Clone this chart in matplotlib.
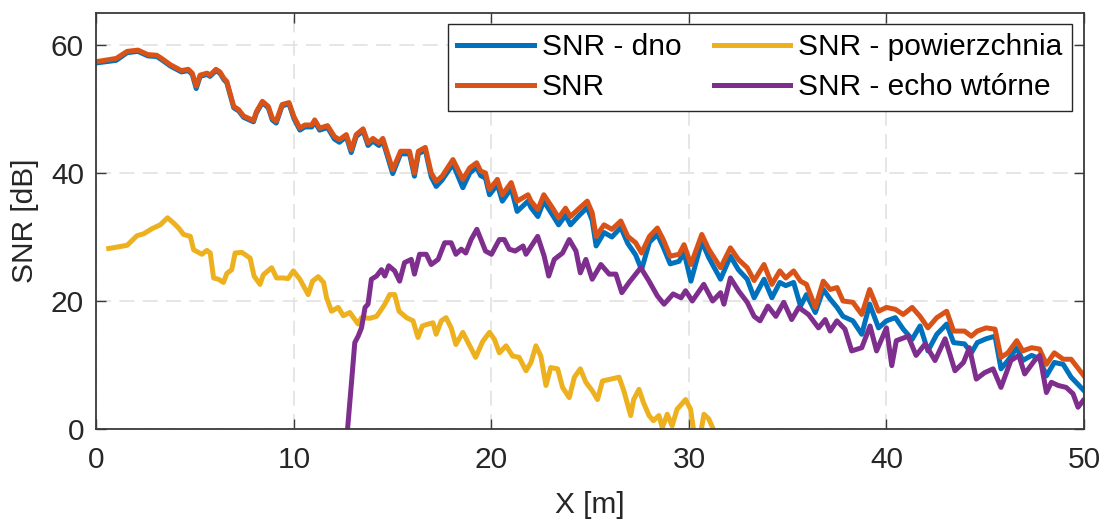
import matplotlib
matplotlib.use("Agg")
import matplotlib.pyplot as plt

plt.rcParams["font.family"] = ["Liberation Sans", "DejaVu Sans"]

# distance axis for SNR and SNR - dno
x_snr = [0.0, 1.0, 1.55, 2.1, 2.6, 3.05, 3.3, 3.75, 4.3, 4.65,
         4.85, 5.05, 5.25, 5.6, 5.75, 6.05, 6.25, 6.45, 6.6, 6.95,
         7.2, 7.45, 7.95, 8.1, 8.4, 8.7, 8.9, 9.1, 9.4, 9.75,
         10.0, 10.3, 10.55, 10.9, 11.05, 11.3, 11.7, 12.05, 12.3, 12.65,
         12.9, 13.15, 13.5, 13.75, 14.0, 14.3, 14.5, 15.0, 15.4, 15.85,
         16.1, 16.3, 16.65, 16.95, 17.2, 17.5, 18.05, 18.55, 18.9, 19.25,
         19.45, 19.7, 19.9, 20.3, 20.55, 21.0, 21.3, 21.85, 22.0, 22.35,
         22.65, 23.1, 23.4, 23.75, 24.0, 24.45, 24.85, 25.1, 25.3, 25.7,
         26.1, 26.55, 26.9, 27.3, 27.6, 28.0, 28.4, 28.7, 29.05, 29.5,
         29.75, 30.1, 30.65, 31.0, 31.6, 32.1, 32.5, 32.95, 33.3, 33.8,
         34.2, 34.6, 34.9, 35.3, 35.65, 35.95, 36.4, 36.8, 37.15, 37.5,
         37.8, 38.3, 38.75, 39.15, 39.6, 40.0, 40.45, 40.85, 41.3, 41.7,
         42.1, 42.55, 43.05, 43.4, 43.95, 44.3, 44.6, 45.05, 45.5, 45.8,
         46.15, 46.6, 46.9, 47.35, 47.75, 48.1, 48.5, 48.95, 49.35, 49.6,
         50.0]

snr = [57.4, 57.9, 59.0, 59.2, 58.5, 58.4, 57.9, 56.9, 56.0, 56.2,
       55.6, 53.6, 55.3, 55.6, 55.3, 56.2, 55.8, 54.8, 54.3, 50.4,
       49.9, 48.9, 48.2, 49.6, 51.2, 50.4, 48.6, 48.1, 50.7, 51.0,
       48.8, 47.0, 47.5, 47.5, 48.3, 47.0, 47.4, 45.7, 45.2, 46.0,
       43.6, 46.0, 46.9, 44.7, 45.4, 44.7, 45.4, 40.5, 43.4, 43.4,
       40.0, 43.4, 44.0, 40.0, 38.7, 39.5, 42.1, 39.0, 40.8, 41.6,
       40.3, 40.0, 37.4, 39.0, 36.6, 38.5, 35.6, 36.6, 35.6, 34.3,
       36.6, 34.5, 33.0, 34.5, 33.2, 34.5, 35.6, 33.8, 30.1, 31.9,
       31.2, 32.5, 30.1, 29.1, 27.5, 30.1, 31.4, 29.6, 27.0, 27.3,
       28.8, 25.7, 30.4, 28.1, 25.2, 28.3, 26.5, 25.2, 23.2, 25.7,
       22.6, 24.7, 23.6, 24.7, 23.1, 22.6, 19.0, 23.1, 21.8, 22.1,
       20.0, 19.8, 17.9, 21.8, 18.4, 19.0, 18.7, 17.9, 19.0, 17.6,
       15.8, 17.4, 18.4, 15.3, 15.3, 14.5, 15.3, 15.8, 15.6, 11.2,
       11.9, 13.8, 12.2, 12.7, 12.5, 10.1, 11.9, 10.9, 10.9, 9.9,
       8.3]

snr_dno = [57.2, 57.6, 58.8, 59.0, 58.3, 58.2, 57.7, 56.7, 55.8, 56.0,
           55.4, 53.2, 55.1, 55.4, 55.1, 56.0, 55.6, 54.6, 54.1, 50.2,
           49.7, 48.7, 48.0, 49.4, 51.0, 50.2, 48.3, 47.8, 50.5, 50.8,
           48.5, 46.7, 47.2, 47.2, 48.0, 46.7, 47.1, 45.3, 44.8, 45.7,
           43.2, 45.7, 46.6, 44.3, 45.0, 44.3, 45.0, 39.9, 43.0, 43.0,
           39.5, 43.0, 43.6, 39.4, 37.9, 38.9, 41.4, 37.7, 40.0, 40.9,
           39.6, 39.2, 36.6, 38.2, 35.6, 37.6, 34.0, 35.6, 34.6, 33.2,
           35.6, 33.4, 31.9, 33.4, 31.9, 33.4, 34.6, 32.6, 28.6, 30.7,
           30.0, 31.5, 29.0, 27.2, 24.9, 29.2, 30.4, 28.4, 25.8, 26.2,
           27.6, 23.1, 29.3, 26.8, 23.4, 27.0, 24.9, 23.4, 20.5, 23.4,
           20.5, 22.9, 22.4, 22.9, 19.2, 21.0, 18.2, 21.8, 20.3, 19.0,
           17.6, 16.9, 14.8, 19.5, 15.8, 16.9, 17.4, 15.6, 14.0, 16.1,
           12.2, 14.8, 16.4, 13.5, 13.3, 11.9, 13.5, 14.1, 14.5, 9.4,
           10.7, 12.7, 10.7, 11.5, 11.0, 8.3, 10.4, 10.1, 8.1, 7.3,
           6.0]

# SNR - powierzchnia
x_pow = [0.62, 1.55, 2.05, 2.39, 2.81, 3.23, 3.6, 3.9, 4.16, 4.41,
         4.75, 4.92, 5.34, 5.59, 5.76, 5.93, 6.18, 6.43, 6.6, 6.85,
         7.02, 7.36, 7.78, 7.98, 8.28, 8.45, 8.87, 9.12, 9.46, 9.7,
         9.97, 10.3, 10.72, 10.94, 11.23, 11.5, 11.65, 11.9, 12.24, 12.5,
         12.83, 13.25, 13.42, 13.84, 14.18, 14.43, 14.6, 14.85, 15.1, 15.32,
         15.7, 16.03, 16.28, 16.5, 16.8, 17.04, 17.2, 17.46, 17.7, 17.96,
         18.2, 18.55, 18.9, 19.2, 19.56, 19.9, 20.15, 20.4, 20.74, 21.07,
         21.4, 21.75, 22.0, 22.25, 22.5, 22.76, 23.0, 23.35, 23.6, 23.94,
         24.2, 24.5, 24.78, 25.1, 25.37, 25.62, 26.05, 26.46, 26.7, 27.05,
         27.2, 27.47, 27.7, 27.98, 28.2, 28.48, 28.65, 28.9, 29.15, 29.4,
         29.83, 30.08, 30.25, 30.6, 30.76, 31.0, 31.2]

snr_pow = [28.2, 28.7, 30.2, 30.5, 31.3, 31.9, 33.0, 32.2, 31.4, 30.4,
           30.1, 28.0, 27.3, 27.9, 27.5, 23.6, 23.4, 22.9, 24.3, 24.9,
           27.5, 27.6, 26.7, 23.9, 22.6, 24.1, 25.2, 23.6, 23.6, 23.5,
           24.7, 23.4, 21.0, 23.1, 23.8, 22.9, 20.5, 18.4, 19.0, 17.7,
           18.2, 16.4, 17.4, 17.3, 17.6, 18.7, 19.5, 21.0, 21.0, 18.4,
           17.4, 16.9, 14.3, 16.1, 16.4, 16.6, 14.8, 16.9, 17.4, 15.8,
           13.2, 15.1, 13.0, 11.2, 13.7, 15.1, 14.0, 11.9, 13.0, 11.4,
           11.2, 9.1, 10.4, 13.0, 11.4, 6.8, 9.6, 9.4, 6.5, 4.9,
           8.1, 9.4, 7.3, 6.0, 4.6, 7.5, 7.8, 8.1, 6.0, 2.1,
           4.6, 6.2, 4.1, 2.1, 1.3, 2.1, 0.2, 2.3, 0.5, 3.1,
           4.6, 3.1, -0.5, -0.5, 2.3, 1.6, 0.2]

# SNR - echo wtorne
x_echo = [12.7, 12.9, 13.08, 13.25, 13.42, 13.6, 13.75, 13.92, 14.18, 14.43,
          14.6, 14.8, 15.1, 15.35, 15.6, 15.94, 16.1, 16.36, 16.7, 16.95,
          17.3, 17.63, 17.96, 18.2, 18.47, 18.7, 18.97, 19.26, 19.47, 19.7,
          20.0, 20.4, 20.65, 20.9, 21.2, 21.6, 21.75, 22.34, 22.67, 22.9,
          23.18, 23.6, 23.94, 24.28, 24.5, 24.78, 25.1, 25.54, 25.96, 26.3,
          26.6, 26.97, 27.56, 27.98, 28.4, 28.74, 29.2, 29.6, 29.83, 30.17,
          30.75, 31.2, 31.6, 31.77, 32.1, 32.53, 32.95, 33.3, 33.6, 34.0,
          34.4, 34.8, 35.2, 35.56, 36.05, 36.56, 36.9, 37.15, 37.49, 37.9,
          38.24, 38.75, 39.17, 39.5, 40.0, 40.27, 40.5, 41.1, 41.5, 41.96,
          42.46, 42.97, 43.47, 43.9, 44.2, 44.55, 44.97, 45.4, 45.8, 46.3,
          46.7, 47.0, 47.5, 47.76, 48.1, 48.35, 48.7, 49.1, 49.45, 49.7,
          49.95]

snr_echo = [-0.5, 6.8, 13.5, 14.5, 15.8, 19.0, 19.5, 23.4, 23.9, 24.9,
            23.9, 25.5, 24.7, 23.1, 26.0, 26.5, 24.2, 27.3, 27.3, 25.7,
            26.5, 29.1, 29.1, 27.3, 28.1, 27.5, 29.6, 31.2, 29.6, 27.8,
            27.3, 29.6, 29.6, 28.1, 27.8, 28.6, 27.3, 30.1, 27.0, 23.9,
            26.5, 27.5, 29.6, 27.8, 24.4, 26.5, 23.4, 25.7, 24.2, 24.2,
            21.3, 22.9, 25.2, 23.1, 20.8, 19.5, 21.1, 20.5, 21.6, 20.0,
            22.6, 20.0, 21.3, 19.5, 23.6, 21.5, 19.8, 17.6, 16.9, 19.2,
            17.6, 19.8, 17.1, 19.0, 17.9, 15.8, 17.1, 15.3, 16.9, 15.6,
            12.2, 12.7, 16.1, 12.2, 15.8, 9.9, 13.8, 14.5, 11.5, 13.3,
            10.7, 14.1, 9.1, 10.4, 12.7, 7.8, 8.8, 9.4, 6.5, 10.7,
            11.5, 8.6, 10.7, 11.5, 5.7, 7.3, 6.8, 6.5, 5.5, 3.4,
            4.4]

x_ticks = [0, 10, 20, 30, 40, 50]
y_ticks = [0, 20, 40, 60]

dark = "#262626"
fs = 21.5
lw = 3.6

fig = plt.figure(figsize=(11, 5.2), dpi=100)
ax = fig.add_axes([0.0877, 0.175, 0.8977, 0.8])

ax.plot(x_snr, snr_dno, color="#0072BD", lw=lw, label="SNR - dno", solid_joinstyle="round")
ax.plot(x_snr, snr, color="#D95319", lw=lw, label="SNR", solid_joinstyle="round")
ax.plot(x_pow, snr_pow, color="#EDB120", lw=lw, label="SNR - powierzchnia", solid_joinstyle="round")
ax.plot(x_echo, snr_echo, color="#7E2F8E", lw=lw, label="SNR - echo wtórne", solid_joinstyle="round")

ax.set_xlim(0, 50)
ax.set_ylim(0, 65)
ax.set_xticks(x_ticks)
ax.set_yticks(y_ticks)

ax.grid(True, color="#e2e2e2", lw=1.2, ls=(0, (9, 5)))
ax.set_axisbelow(True)

for s in ax.spines.values():
    s.set_color("#3a3a3a")
    s.set_linewidth(1.3)
ax.tick_params(direction="in", length=7, width=1, top=True, right=True,
               colors="#3a3a3a", labelcolor=dark, labelsize=fs)
ax.tick_params(axis="y", pad=9)
ax.tick_params(axis="x", pad=12)

ax.set_xlabel("X [m]", fontsize=fs, color=dark)
ax.set_ylabel("SNR [dB]", fontsize=fs, color=dark)
ax.xaxis.set_label_coords(0.5, -0.15)
ax.yaxis.set_label_coords(-0.058, 0.5)

leg = ax.legend(ncol=2, loc="upper right", bbox_to_anchor=(0.988, 0.974),
                borderaxespad=0, fontsize=fs, frameon=True, fancybox=False,
                framealpha=1, edgecolor=dark, handlelength=2.55,
                handletextpad=0.27, columnspacing=1.1, labelspacing=0.4,
                borderpad=0.32)
leg.get_frame().set_linewidth(1.0)
for t in leg.get_texts():
    t.set_color("black")

fig.savefig("out.png", dpi=100)
